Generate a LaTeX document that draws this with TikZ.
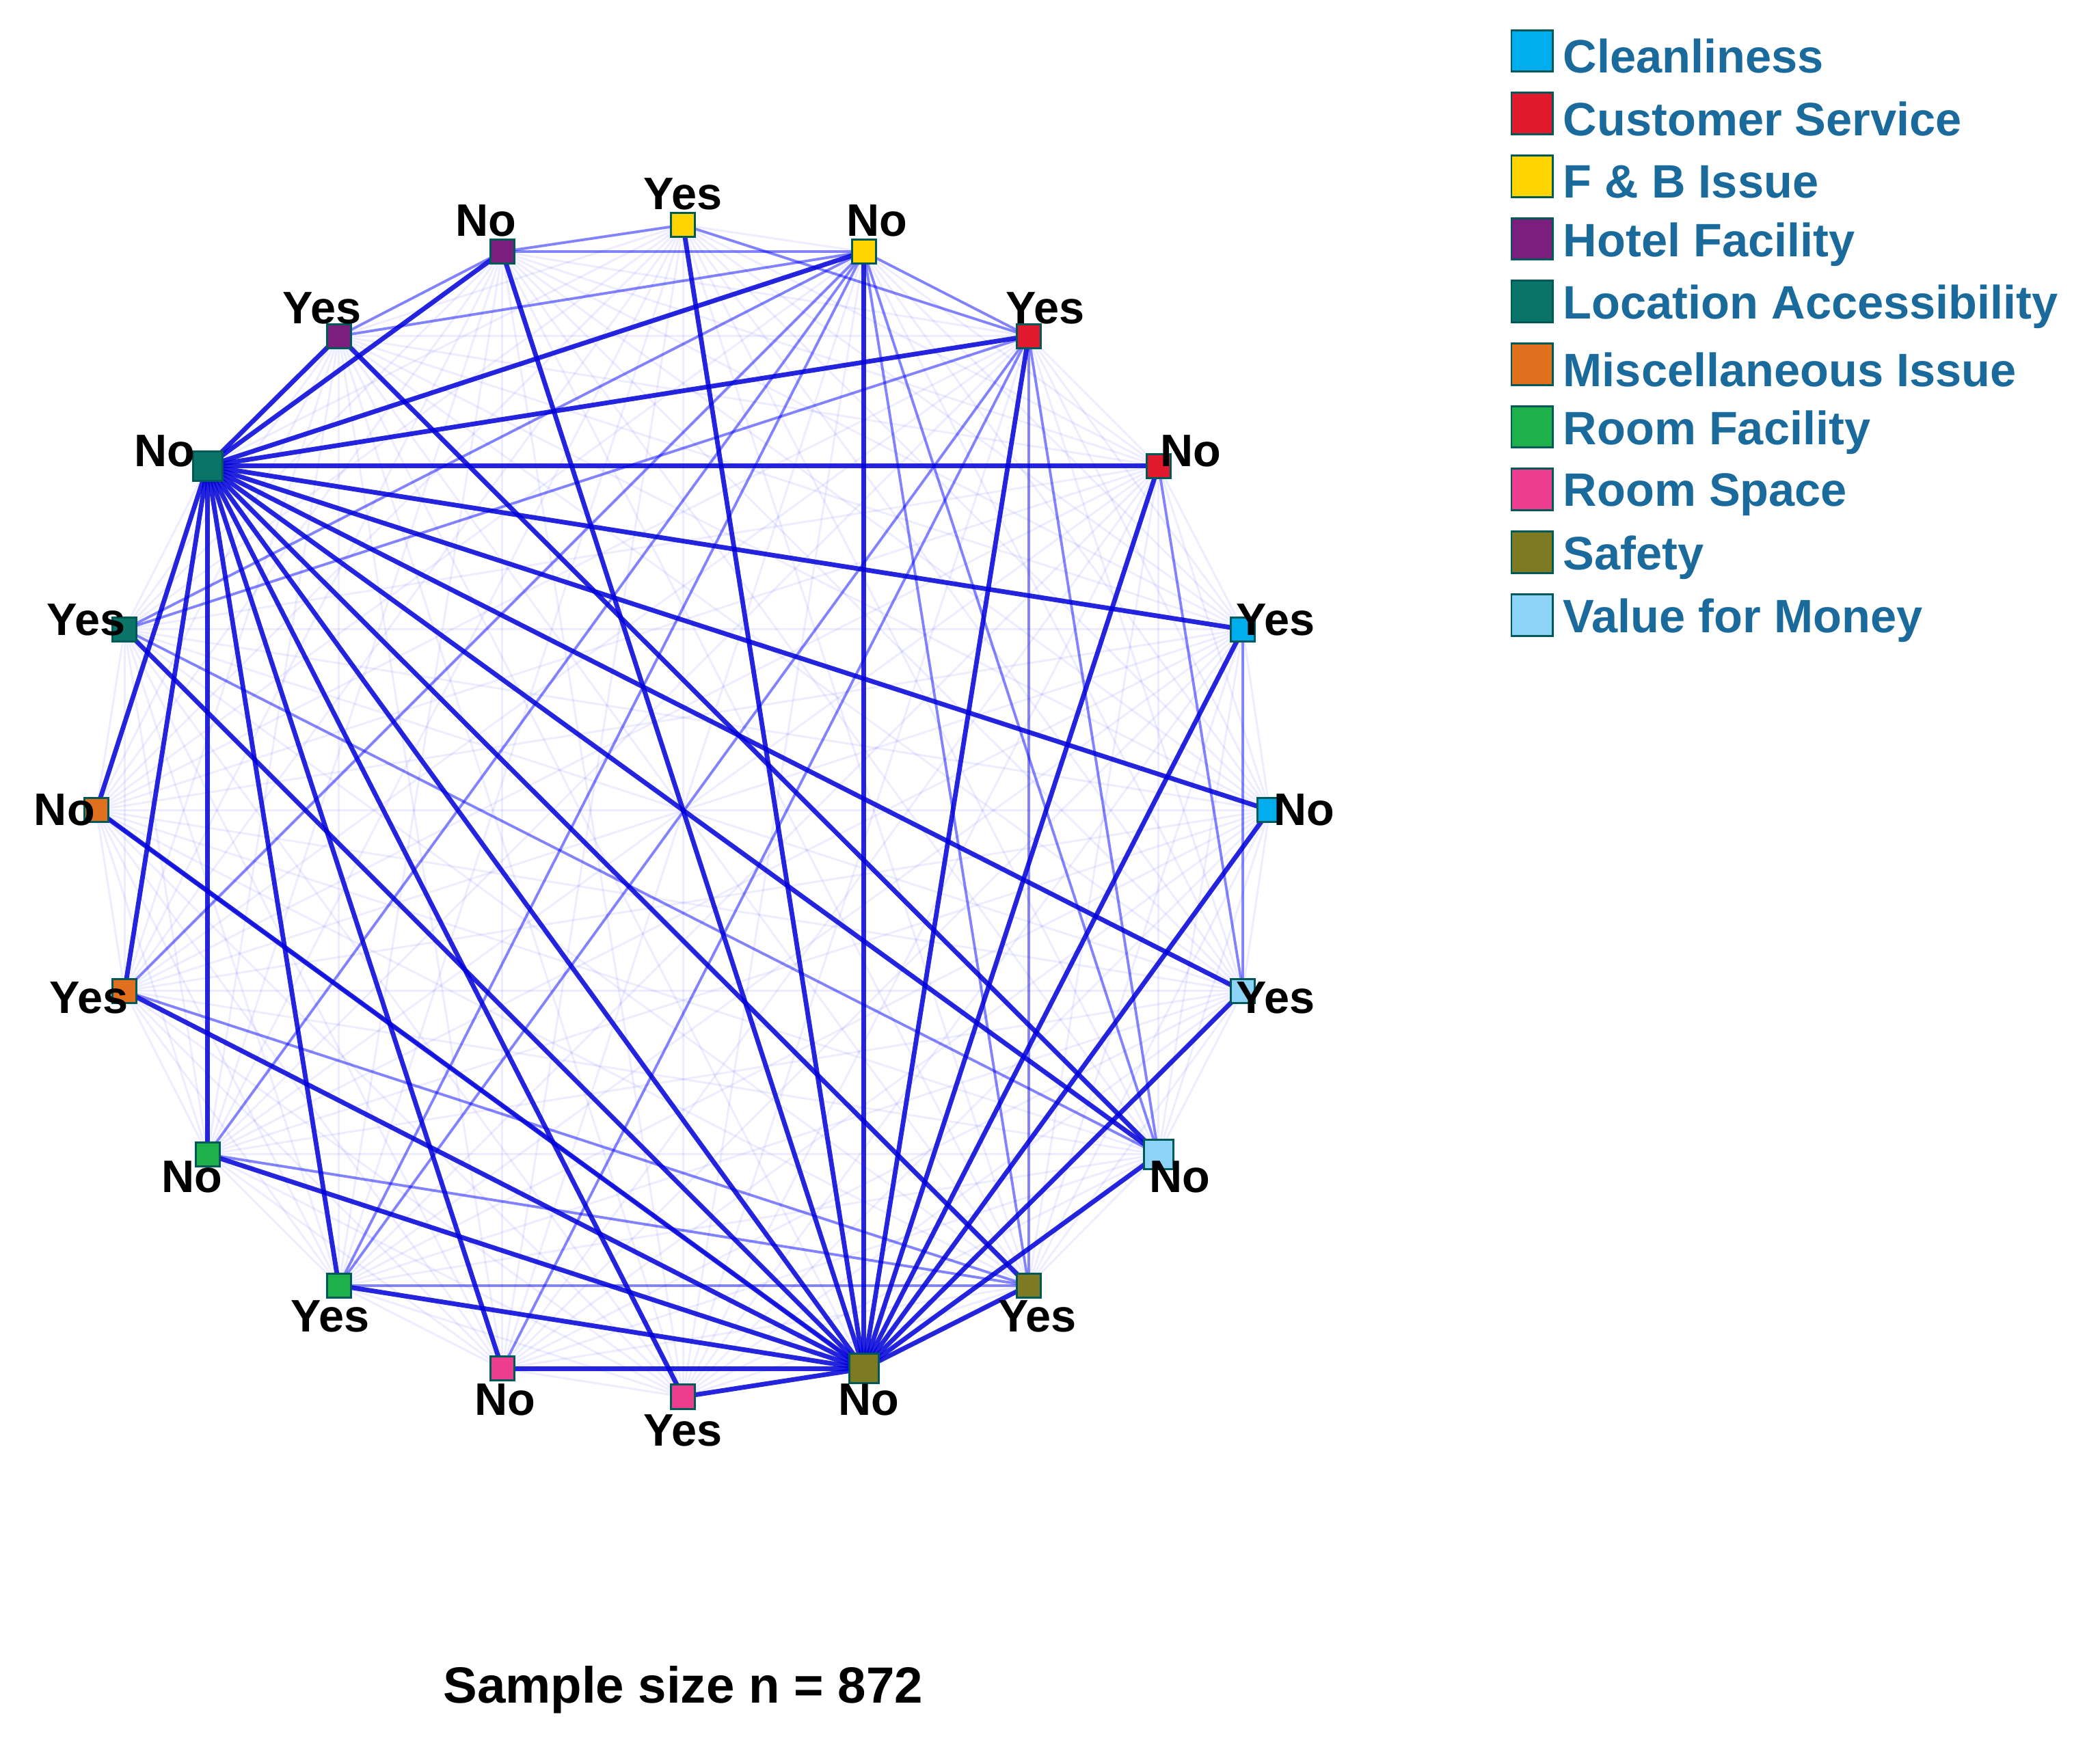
\documentclass[tikz,border=0pt]{standalone}
\usepackage{fontspec}
\setmainfont{Liberation Sans}
\usetikzlibrary{positioning}
\begin{document}
\begin{tikzpicture}[x=1pt,y=-1pt,
  sq/.style={draw=teal!70!black,line width=1.5pt,minimum size=18pt,inner sep=0pt},
  lab/.style={font=\bfseries\fontsize{34}{36}\selectfont,inner sep=1pt},
  leg/.style={font=\bfseries\fontsize{35}{37}\selectfont,text=legtxt,anchor=west,inner sep=0pt},
  faint/.style={blue,opacity=0.07,line width=1.5pt},
  mid/.style={blue,opacity=0.45,line width=2pt},
  strong/.style={blue!85!black,opacity=0.85,line width=3.5pt}]
\useasboundingbox (0,0) rectangle (1568,1303);
\definecolor{legtxt}{HTML}{1A6A9C}
\definecolor{cClean}{HTML}{00AEEF}\definecolor{cCS}{HTML}{E0192C}
\definecolor{cFB}{HTML}{FFD400}\definecolor{cHF}{HTML}{7B1F7E}
\definecolor{cLoc}{HTML}{0B7468}\definecolor{cMisc}{HTML}{E0701E}
\definecolor{cRF}{HTML}{1DB04B}\definecolor{cRS}{HTML}{EC3D8F}
\definecolor{cSaf}{HTML}{7E7A23}\definecolor{cVal}{HTML}{8CD3F5}
% coordinates
\coordinate (yfb) at (510,168); \coordinate (nhf) at (375,188);
\coordinate (nfb) at (645,188); \coordinate (yhf) at (253,251);
\coordinate (ycs) at (768,251); \coordinate (nloc) at (155,348);
\coordinate (ncs) at (865,348); \coordinate (yloc) at (93,470);
\coordinate (ycl) at (928,470); \coordinate (nmi) at (72,605);
\coordinate (ncl) at (948,605); \coordinate (ymi) at (93,740);
\coordinate (yva) at (928,740); \coordinate (nrf) at (155,862);
\coordinate (nva) at (865,862); \coordinate (yrf) at (253,960);
\coordinate (ysa) at (768,960); \coordinate (nrs) at (375,1022);
\coordinate (yrs) at (510,1043); \coordinate (nsa) at (645,1022);
% faint all pairs
\foreach \a [count=\i] in {yfb,nhf,nfb,yhf,ycs,nloc,ncs,yloc,ycl,nmi,ncl,ymi,yva,nrf,nva,yrf,ysa,nrs,yrs,nsa}{
  \foreach \b [count=\j] in {yfb,nhf,nfb,yhf,ycs,nloc,ncs,yloc,ycl,nmi,ncl,ymi,yva,nrf,nva,yrf,ysa,nrs,yrs,nsa}{
    \ifnum\j>\i \draw[faint] (\a)--(\b);\fi}}
% medium
\foreach \a/\b in {nfb/nrf,nfb/yrf,nfb/ymi,ycs/nrs,ycs/yrf,nfb/nva,nfb/ysa,ycs/ysa,ycs/nva,yfb/ycs,nhf/nfb,yhf/nfb,nfb/ycs,ncs/yva,ycl/yva,yloc/nva,nmi/nsa,ymi/ysa,nrf/ysa,yrf/ysa,nhf/yfb,yhf/nhf,ycs/yloc,nfb/yloc}
  \draw[mid] (\a)--(\b);
% strong
\foreach \b in {nhf,yhf,nfb,ycs,ncs,ycl,ncl,yva,nva,ysa,nsa,yrs,nrs,yrf,nrf,ymi,nmi}
  \draw[strong] (nloc)--(\b);
\foreach \b in {yfb,nfb,ycs,ncs,ycl,ncl,yva,nva,ysa,yrs,nrs,yrf,nrf,ymi,nmi,yloc}
  \draw[strong] (nsa)--(\b);
\draw[strong] (yhf)--(nva); \draw[strong] (nhf)--(nsa);
% nodes
\node[sq,fill=cFB] (n1) at (yfb){}; \node[lab,above=10pt of yfb] {Yes};
\node[sq,fill=cHF] (n2) at (nhf){}; \node[lab,above=10pt of nhf,xshift=-12pt] {No};
\node[sq,fill=cFB] (n3) at (nfb){}; \node[lab,above=10pt of nfb,xshift=10pt] {No};
\node[sq,fill=cHF] (n4) at (yhf){}; \node[lab,above left=8pt and -18pt of yhf] {Yes};
\node[sq,fill=cCS] (n5) at (ycs){}; \node[lab,above right=8pt and -18pt of ycs] {Yes};
\node[sq,fill=cLoc,minimum size=22pt] (n6) at (nloc){}; \node[lab,above left=-2pt and 8pt of nloc] {No};
\node[sq,fill=cCS] (n7) at (ncs){}; \node[lab,above right=-2pt and 0pt of ncs] {No};
\node[sq,fill=cLoc] (n8) at (yloc){}; \node[lab,above left=-6pt and -2pt of yloc] {Yes};
\node[sq,fill=cClean] (n9) at (ycl){}; \node[lab,above right=-6pt and -6pt of ycl] {Yes};
\node[sq,fill=cMisc] (n10) at (nmi){}; \node[lab,left=0pt of nmi] {No};
\node[sq,fill=cClean] (n11) at (ncl){}; \node[lab,right=2pt of ncl] {No};
\node[sq,fill=cMisc] (n12) at (ymi){}; \node[lab,below left=-8pt and -4pt of ymi] {Yes};
\node[sq,fill=cVal] (n13) at (yva){}; \node[lab,below right=-8pt and -6pt of yva] {Yes};
\node[sq,fill=cRF] (n14) at (nrf){}; \node[lab,below left=4pt and -12pt of nrf] {No};
\node[sq,fill=cVal,minimum size=22pt] (n15) at (nva){}; \node[lab,below right=4pt and -8pt of nva] {No};
\node[sq,fill=cRF] (n16) at (yrf){}; \node[lab,below left=10pt and -24pt of yrf] {Yes};
\node[sq,fill=cSaf] (n17) at (ysa){}; \node[lab,below right=10pt and -24pt of ysa] {Yes};
\node[sq,fill=cRS] (n18) at (nrs){}; \node[lab,below left=10pt and -26pt of nrs] {No};
\node[sq,fill=cRS] (n19) at (yrs){}; \node[lab,below=12pt of yrs] {Yes};
\node[sq,fill=cSaf,minimum size=22pt] (n20) at (nsa){}; \node[lab,below right=10pt and -20pt of nsa] {No};
% legend
\foreach \c/\t [count=\k from 0] in {cClean/Cleanliness,cCS/Customer Service,cFB/F \& B Issue,cHF/Hotel Facility,cLoc/Location Accessibility,cMisc/Miscellaneous Issue,cRF/Room Facility,cRS/Room Space,cSaf/Safety,cVal/Value for Money}{
  \node[sq,fill=\c,minimum size=31pt] (lg\k) at (1144,{38+46.8*\k}){};
  \node[leg] (lt\k) at (1167,{42+46.8*\k}){\t};}
\node[font=\bfseries\fontsize{38}{40}\selectfont] (ss) at (510,1262){Sample size n = 872};
\end{tikzpicture}
\end{document}
